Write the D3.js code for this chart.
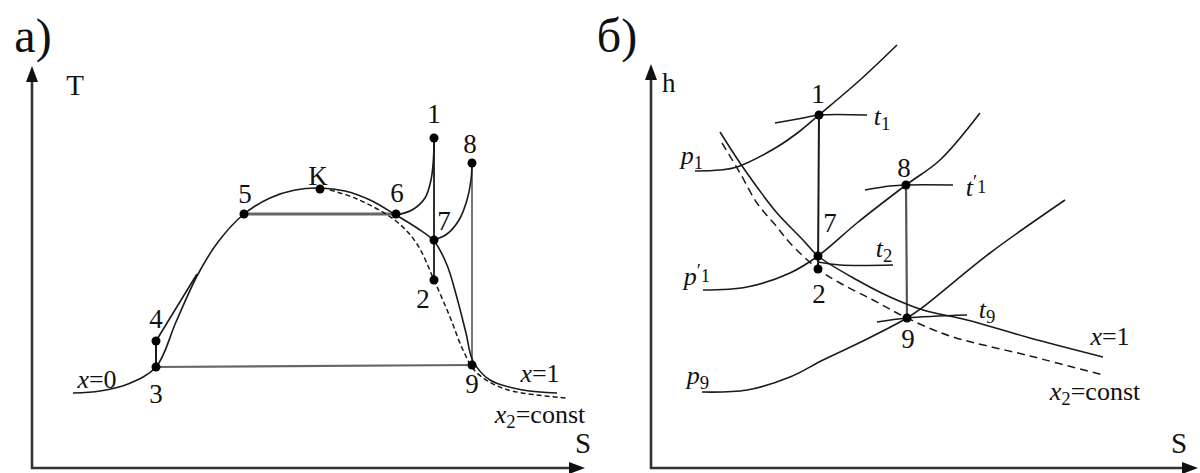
<!DOCTYPE html>
<html>
<head>
<meta charset="utf-8">
<script src="https://cdn.jsdelivr.net/npm/d3@7"></script>
<style>
  body { margin: 0; background: #fff; }
  text { fill: #111; }
</style>
</head>
<body>
<svg width="1200" height="473"></svg>
<script>
// ---------- а) T-S диаграмма ----------
// пограничная кривая x=0 -> K -> x=1  [S, T]
const tsSaturation = [
  [0.82, 1.50], [1.36, 1.54], [1.92, 1.68], [2.48, 2.02], [2.88, 2.92],
  [3.30, 3.84], [3.72, 4.52], [4.24, 5.08], [4.76, 5.40], [5.26, 5.56],
  [5.76, 5.60], [6.26, 5.54], [6.76, 5.36], [7.28, 5.06], [7.70, 4.80],
  [8.04, 4.54], [8.30, 4.06], [8.50, 3.40], [8.68, 2.70], [8.82, 2.14],
  [9.16, 1.76], [9.82, 1.56], [10.50, 1.50]
];
// линия x2 = const
const tsDryness = [
  [5.96, 5.56], [6.50, 5.38], [7.28, 4.94], [7.70, 4.48], [8.04, 3.76],
  [8.36, 3.02], [8.62, 2.36], [8.88, 1.92], [9.46, 1.58], [10.70, 1.40]
];
const tsIsobar61 = [[7.28, 5.06], [7.60, 5.16], [7.86, 5.40], [7.98, 5.76], [8.03, 6.20], [8.04, 6.60]];
const tsIsobar78 = [[8.04, 4.56], [8.30, 4.68], [8.54, 4.96], [8.70, 5.36], [8.78, 5.76], [8.80, 6.10]];
const tsPump = [[2.48, 2.54], [3.30, 3.88]];

const tsNames = ['1', '2', '3', '4', '5', '6', '7', '8', '9', 'K'];
const tsS = [8.04, 8.04, 2.48, 2.48, 4.24, 7.28, 8.04, 8.80, 8.80, 5.76];
const tsT = [6.60, 3.76, 2.02, 2.54, 5.08, 5.08, 4.56, 6.10, 2.06, 5.58];

// ---------- б) h-S диаграмма ----------
const hsSaturation = [
  [1.38, 6.72], [1.78, 6.10], [2.12, 5.62], [2.52, 5.10], [3.04, 4.56],
  [3.34, 4.24], [4.12, 3.76], [4.78, 3.42], [5.44, 3.16], [6.32, 2.96],
  [7.58, 2.60], [9.04, 2.22]
];
const hsDryness = [
  [1.42, 6.50], [1.78, 5.90], [2.12, 5.30], [2.52, 4.82], [2.78, 4.50],
  [3.34, 3.98], [3.78, 3.70], [4.44, 3.36], [5.12, 3.00], [5.98, 2.64],
  [7.58, 2.24], [9.04, 1.86]
];
const hsIsobarP1 = [[0.88, 5.94], [1.38, 5.96], [1.72, 6.02], [2.52, 6.42], [2.98, 6.74], [3.36, 7.06], [4.18, 7.76], [4.92, 8.46]];
const hsIsobarP1r = [[1.04, 3.56], [1.92, 3.62], [2.78, 3.90], [3.34, 4.24], [4.12, 4.90], [5.10, 5.66], [5.78, 6.16], [6.58, 7.10]];
const hsIsobarP9 = [[1.02, 1.52], [1.92, 1.56], [2.78, 1.82], [3.44, 2.16], [4.28, 2.56], [5.12, 3.00], [5.44, 3.22], [6.78, 4.30], [8.28, 5.36]];
const hsIsoT1 = [[2.48, 6.90], [3.04, 7.00], [3.36, 7.06], [4.32, 7.06]];
const hsIsoT1r = [[4.28, 5.56], [4.78, 5.64], [5.10, 5.66], [6.04, 5.66]];
const hsIsoT2 = [[3.34, 4.12], [3.78, 4.06], [4.84, 4.06]];
const hsIsoT9 = [[4.52, 2.92], [5.12, 3.00], [6.32, 3.06]];

const hsNames = ['1', '2', '7', '8', '9'];
const hsS = [3.36, 3.34, 3.34, 5.10, 5.12];
const hsH = [7.06, 3.98, 4.24, 5.66, 3.00];

// ---------- разметка ----------
var svg = d3.select('svg');
const serif = "'Liberation Serif', 'Times New Roman', Times, 'DejaVu Serif', 'Noto Serif', serif";

const xA = d3.scaleLinear().domain([0, 11]).range([32, 582]);
const yA = d3.scaleLinear().domain([0, 8]).range([468, 68]);
const xB = d3.scaleLinear().domain([0, 11]).range([651, 1201]);
const yB = d3.scaleLinear().domain([0, 8]).range([468, 68]);

const ink = '#1a1a1a';

function curve(x, y, data, opts) {
  const line = d3.line().x((d) => x(d[0])).y((d) => y(d[1]))
    .curve(opts.straight ? d3.curveLinear : d3.curveCatmullRom.alpha(0.5));
  svg.append('path')
    .attr('d', line(data))
    .attr('fill', 'none')
    .attr('stroke', opts.color || ink)
    .attr('stroke-width', opts.width || 1.6)
    .attr('stroke-dasharray', opts.dash || null);
}

// оси со стрелками
function axes(x, y, xEnd, yEnd) {
  const x0 = x(0), y0 = y(0), xe = x(xEnd), ye = y(yEnd);
  svg.append('line').attr('x1', x0).attr('y1', y0 + 1).attr('x2', x0).attr('y2', ye + 12)
    .attr('stroke', '#333').attr('stroke-width', 2.6);
  svg.append('line').attr('x1', x0 - 1).attr('y1', y0).attr('x2', xe - 12).attr('y2', y0)
    .attr('stroke', '#333').attr('stroke-width', 2.6);
  svg.append('path').attr('d', `M${x0},${ye} L${x0 - 6},${ye + 16} L${x0 + 6},${ye + 16} Z`).attr('fill', '#111');
  svg.append('path').attr('d', `M${xe},${y0} L${xe - 16},${y0 - 6} L${xe - 16},${y0 + 6} Z`).attr('fill', '#111');
}

// подпись: parts = [[текст, вид]], вид: '' | 'i' | 'sub' | 'sup'
function label(px, py, parts, size, anchor) {
  const t = svg.append('text').attr('x', px).attr('y', py)
    .attr('font-family', serif)
    .attr('font-size', size).attr('text-anchor', anchor || 'middle');
  parts.forEach((p) => {
    const s = t.append('tspan').text(p[0]);
    if (p[1] === 'i') s.attr('font-style', 'italic');
    if (p[1] === 'sub') s.attr('font-size', size * 0.72).attr('dy', size * 0.18);
    if (p[1] === 'sup') s.attr('font-size', size * 0.72).attr('dy', -size * 0.3);
    if (p[1] === 'up') s.attr('dy', -size * 0.18);
  });
  return t;
}

// ===== панель а =====
axes(xA, yA, 11.06, 8.04);

svg.append('line').attr('x1', xA(tsS[4])).attr('y1', yA(tsT[4])).attr('x2', xA(tsS[5])).attr('y2', yA(tsT[5]))
  .attr('stroke', '#666').attr('stroke-width', 3);
svg.append('line').attr('x1', xA(tsS[2])).attr('y1', yA(tsT[2])).attr('x2', xA(tsS[8])).attr('y2', yA(tsT[8]))
  .attr('stroke', '#666').attr('stroke-width', 2.2);
svg.append('line').attr('x1', xA(tsS[0])).attr('y1', yA(tsT[0])).attr('x2', xA(tsS[1])).attr('y2', yA(tsT[1]))
  .attr('stroke', ink).attr('stroke-width', 1.8);
svg.append('line').attr('x1', xA(tsS[7])).attr('y1', yA(tsT[7])).attr('x2', xA(tsS[8])).attr('y2', yA(tsT[8]))
  .attr('stroke', '#777').attr('stroke-width', 2);
svg.append('line').attr('x1', xA(tsS[2])).attr('y1', yA(tsT[2])).attr('x2', xA(tsS[3])).attr('y2', yA(tsT[3]))
  .attr('stroke', ink).attr('stroke-width', 2);

curve(xA, yA, tsSaturation, {});
curve(xA, yA, tsDryness, { dash: '5,3', width: 1.5 });
curve(xA, yA, tsIsobar61, {});
curve(xA, yA, tsIsobar78, {});
curve(xA, yA, tsPump, { straight: true });

svg.selectAll('circle.ts').data(tsNames).enter().append('circle')
  .attr('class', 'ts')
  .attr('cx', (d, i) => xA(tsS[i])).attr('cy', (d, i) => yA(tsT[i])).attr('r', 4.5).attr('fill', '#000');

const tsOffset = { '1': [0, -15], '2': [-11, 28], '3': [0, 36], '4': [0, -13], '5': [1, -11],
  '6': [1, -12], '7': [10, -10], '8': [-2, -10], '9': [0, 28], 'K': [-2, -4] };
tsNames.forEach((n, i) => {
  label(xA(tsS[i]) + tsOffset[n][0], yA(tsT[i]) + tsOffset[n][1], [[n, '']], 27);
});

label(97, 388, [['x', 'i'], ['=0', '']], 26);
label(540, 382, [['x', 'i'], ['=1', '']], 26);
label(540, 423, [['x', 'i'], ['2', 'sub'], ['=const', 'up']], 26);
label(583, 453, [['S', '']], 29);
label(75, 95, [['T', '']], 29);
label(33, 52, [['a)', '']], 48);

// ===== панель б =====
axes(xB, yB, 10.94, 8.08);

svg.append('line').attr('x1', xB(hsS[0])).attr('y1', yB(hsH[0])).attr('x2', xB(hsS[1])).attr('y2', yB(hsH[1]))
  .attr('stroke', ink).attr('stroke-width', 2);
svg.append('line').attr('x1', xB(hsS[3])).attr('y1', yB(hsH[3])).attr('x2', xB(hsS[4])).attr('y2', yB(hsH[4]))
  .attr('stroke', '#555').attr('stroke-width', 2.2);

curve(xB, yB, hsSaturation, {});
curve(xB, yB, hsDryness, { dash: '8,5', width: 1.5 });
curve(xB, yB, hsIsobarP1, {});
curve(xB, yB, hsIsobarP1r, {});
curve(xB, yB, hsIsobarP9, {});
curve(xB, yB, hsIsoT1, {});
curve(xB, yB, hsIsoT1r, {});
curve(xB, yB, hsIsoT2, {});
curve(xB, yB, hsIsoT9, {});

svg.selectAll('circle.hs').data(hsNames).enter().append('circle')
  .attr('class', 'hs')
  .attr('cx', (d, i) => xB(hsS[i])).attr('cy', (d, i) => yB(hsH[i])).attr('r', 4.5).attr('fill', '#000');

const hsOffset = { '1': [-1, -12], '2': [1, 34], '7': [12, -24], '8': [-2, -8], '9': [1, 30] };
hsNames.forEach((n, i) => {
  label(xB(hsS[i]) + hsOffset[n][0], yB(hsH[i]) + hsOffset[n][1], [[n, '']], 27);
});

label(882, 125, [['t', 'i'], ['1', 'sub']], 26);
label(976, 196, [['t', 'i'], ['\u2032', 'sup'], ['1', 'sub']], 26);
label(884, 257, [['t', 'i'], ['2', 'sub']], 26);
label(987, 318, [['t', 'i'], ['9', 'sub']], 26);
label(692, 164, [['p', 'i'], ['1', 'sub']], 26);
label(697, 285, [['p', 'i'], ['\u2032', 'sup'], ['1', 'sub']], 26);
label(698, 384, [['p', 'i'], ['9', 'sub']], 26);
label(1110, 345, [['x', 'i'], ['=1', '']], 26);
label(1095, 400, [['x', 'i'], ['2', 'sub'], ['=const', 'up']], 26);
label(1179, 453, [['S', '']], 29);
label(662, 92, [['h', '']], 27, 'start');
label(617, 52, [['б)', '']], 48);
</script>
</body>
</html>
